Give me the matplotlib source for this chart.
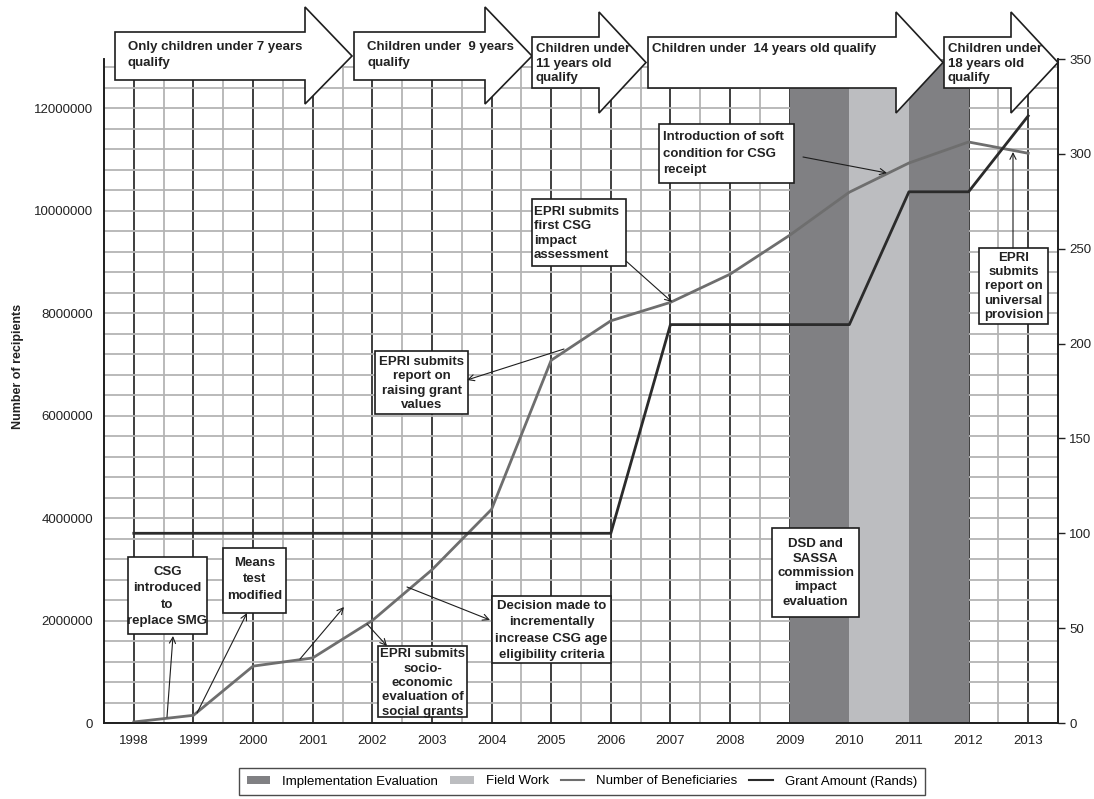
import matplotlib
matplotlib.use('Agg')
import matplotlib.pyplot as plt
from matplotlib.patches import Polygon, Rectangle, Patch, FancyArrowPatch
from matplotlib.lines import Line2D
import numpy as np

plt.rcParams['font.family'] = ['Liberation Sans', 'DejaVu Sans']

# data
years = np.arange(1998, 2014)
beneficiaries = [20000, 150000, 1110000, 1270000, 2000000, 2990000, 4170000, 7080000,
                 7850000, 8210000, 8760000, 9520000, 10360000, 10930000, 11340000, 11120000]
grant_amount = [100, 100, 100, 100, 100, 100, 100, 100, 100, 210, 210, 210, 210, 280, 280, 320]

impl_periods = [(2009, 2010), (2011, 2012)]
field_periods = [(2010, 2011)]

stage_labels = ['Only children under 7 years\nqualify',
                'Children under  9 years\nqualify',
                'Children under\n11 years old\nqualify',
                'Children under  14 years old qualify',
                'Children under\n18 years old\nqualify']

note_labels = ['CSG\nintroduced\nto\nreplace SMG',
               'Means\ntest\nmodified',
               'EPRI submits\nsocio-\neconomic\nevaluation of\nsocial grants',
               'Decision made to\nincrementally\nincrease CSG age\neligibility criteria',
               'EPRI submits\nreport on\nraising grant\nvalues',
               'EPRI submits\nfirst CSG\nimpact\nassessment',
               'Introduction of soft\ncondition for CSG\nreceipt',
               'EPRI\nsubmits\nreport on\nuniversal\nprovision',
               'DSD and\nSASSA\ncommission\nimpact\nevaluation']

W, H = 1094, 799
DARK = '#808083'
LIGHT = '#bcbdc0'


def fx(x, y):
    # pixel position (from top-left) -> figure fraction
    return (x / W, 1 - y / H)


fig = plt.figure(figsize=(W / 100, H / 100), dpi=100)
ax = fig.add_axes([104 / W, 1 - 723 / H, (1058 - 104) / W, (723 - 59) / H])
ax2 = ax.twinx()

ax.set_xlim(1997.5, 2013.5)
ax.set_ylim(0, 12.96e6)
ax2.set_ylim(0, 350)

ax.set_axisbelow(True)
ax.set_xticks(years)
ax.set_xticks(years[:-1] + 0.5, minor=True)
yt = np.arange(0, 12000001, 2000000)
ax.set_yticks(yt)
ax.set_yticklabels([str(v) for v in yt])
ax.set_yticks(np.arange(0, 12.9e6, 400000), minor=True)
ax.grid(which='major', axis='x', color='#1e1e1e', lw=1.2)
ax.grid(which='minor', axis='x', color='#b4b4b4', lw=1.3)
ax.grid(which='both', axis='y', color='#b4b4b4', lw=1.3)
ax.tick_params(which='both', length=0, labelsize=9.5, labelcolor='#222222')
ax.tick_params(axis='y', pad=8)
ax.tick_params(axis='x', pad=9)

ax2.set_yticks(np.arange(0, 351, 50))
ax2.tick_params(axis='y', length=5, width=1, pad=3, labelsize=9.5,
                labelcolor='#222222', color='#222222')

for a in (ax, ax2):
    a.spines['top'].set_visible(False)
    for s in ('left', 'right', 'bottom'):
        a.spines[s].set_color('#1e1e1e')
        a.spines[s].set_linewidth(1.2)

for a0, a1 in impl_periods:
    ax.axvspan(a0, a1, color=DARK, lw=0, zorder=1)
for a0, a1 in field_periods:
    ax.axvspan(a0, a1, color=LIGHT, lw=0, zorder=1)

ax.plot(years, beneficiaries, color='#6e6e6e', lw=2, zorder=3)
ax2.plot(years, grant_amount, color='#2b2b2b', lw=2, zorder=3)

# block arrows along the top: left, head start, tip, body top, body bottom, head top, head bottom
arrow_geom = [(115, 305, 352, 32, 80, 7, 104),
              (354, 485, 532, 32, 80, 7, 104),
              (532, 599, 646, 37, 88, 12, 113),
              (648, 896, 943, 37, 88, 12, 113),
              (944, 1011, 1058, 37, 88, 12, 113)]
text_tops = [41, 41, 43, 43, 43]
text_ls = [1.45, 1.45, 1.3, 1.3, 1.3]
for (l, hs, tip, bt, bb, ht, hb), lab, tt, ls in zip(arrow_geom, stage_labels, text_tops, text_ls):
    mid = (bt + bb) / 2
    pts = [fx(l, bt), fx(hs, bt), fx(hs, ht), fx(tip, mid), fx(hs, hb), fx(hs, bb), fx(l, bb)]
    fig.add_artist(Polygon(pts, closed=True, fc='white', ec='#1e1e1e', lw=1.2))
    fig.text(*fx(l + 13 if l < 500 else l + 4, tt), lab, ha='left', va='top',
             fontsize=9.5, fontweight='bold', color='#222222', linespacing=ls)

# annotation boxes: rect (left, top, right, bottom), text anchor, alignment, line spacing
note_rects = [(128, 557, 207, 634), (223, 548, 286, 613), (378, 646, 467, 717),
              (492, 596, 611, 663), (375, 351, 468, 414), (532, 199, 626, 266),
              (659, 124, 794, 183), (979, 248, 1048, 324), (772, 528, 859, 617)]
note_pos = [(167.5, 596.5, 'center', 1.47), (254.5, 579.5, 'center', 1.47),
            (422.5, 683, 'center', 1.27), (551.5, 630.5, 'center', 1.5),
            (421.5, 383.5, 'center', 1.28), (534, 233.5, 'left', 1.28),
            (663, 154, 'left', 1.5), (1013.5, 286.5, 'center', 1.25),
            (815.5, 573, 'center', 1.27)]
for (l, t, r, b), (tx, ty, al, ls), lab in zip(note_rects, note_pos, note_labels):
    x0, y0 = fx(l, b)
    fig.add_artist(Rectangle((x0, y0), (r - l) / W, (b - t) / H,
                             fc='white', ec='#1e1e1e', lw=1.2, zorder=4))
    fig.text(*fx(tx, ty), lab, ha=al, va='center', multialignment=al,
             fontsize=9.5, fontweight='bold', color='#222222', linespacing=ls, zorder=5)

# pointer arrows (tail -> head)
pointers = [((167, 717), (173, 636)), ((197, 713), (247, 613)), ((300, 659), (344, 607)),
            ((367, 624), (387, 646)), ((407, 587), (490, 620)), ((564, 349), (467, 380)),
            ((626, 261), (672, 302)), ((803, 157), (887, 173)), ((1013, 248), (1013, 152))]
for tail, head in pointers:
    fig.add_artist(FancyArrowPatch(fx(*tail), fx(*head), arrowstyle='->', mutation_scale=11,
                                   lw=0.8, color='#1e1e1e', shrinkA=0, shrinkB=0, zorder=6))

fig.text(*fx(18, 366), 'Number of recipients', rotation=90, ha='center', va='center',
         fontsize=9, fontweight='bold', color='#222222')

handles = [Patch(fc=DARK, ec='none'), Patch(fc=LIGHT, ec='none'),
           Line2D([], [], color='#6e6e6e', lw=1.5), Line2D([], [], color='#2b2b2b', lw=1.5)]
labels = ['Implementation Evaluation', 'Field Work', 'Number of Beneficiaries', 'Grant Amount (Rands)']
leg = fig.legend(handles, labels, loc='center', bbox_to_anchor=fx(582, 781.5), ncol=4,
                 fancybox=False, edgecolor='#1e1e1e', fontsize=9.5, handlelength=1.8,
                 handletextpad=0.9, columnspacing=0.9, borderpad=0.6, handleheight=0.5)
leg.get_frame().set_linewidth(1.0)

fig.savefig('out.png', dpi=100)
